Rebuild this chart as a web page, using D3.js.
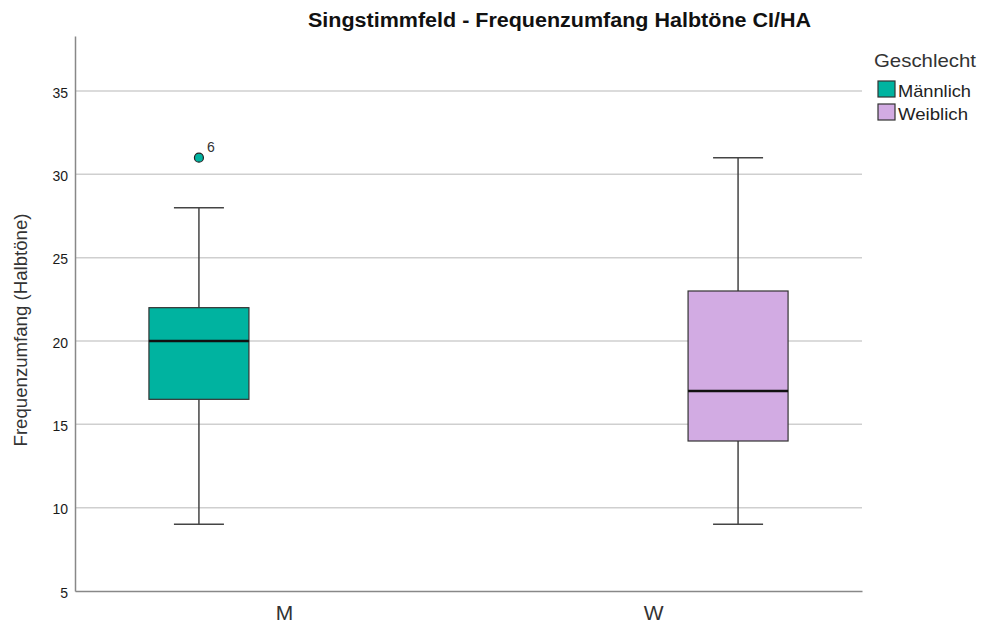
<!DOCTYPE html>
<html><head><meta charset="utf-8">
<script src="https://cdn.jsdelivr.net/npm/d3@7"></script>
<style>
body{margin:0;background:#fff;}
text{font-family:Arial,"Liberation Sans",sans-serif;}
</style></head>
<body><svg id="c" width="985" height="626"></svg>
<script>
const categories = ["M","W"];
const groups = ["Männlich","Weiblich"];
const groupColors = ["#00b3a0","#d2abe3"];
const boxCategory = ["M","W"];
const boxGroup = ["Männlich","Weiblich"];
const mins = [9,9];
const q1s = [16.5,14];
const medians = [20,17];
const q3s = [22,23];
const maxs = [28,31];
const outlierCategory = ["M"];
const outlierGroup = ["Männlich"];
const outlierValues = [31];
const outlierLabels = ["6"];
const yTicks = [5,10,15,20,25,30,35];

const svg = d3.select("#c");
const L=75, R=862, T=36, B=591;
const y = d3.scaleLinear().domain([5,38.3]).range([B,T]);
const x = d3.scalePoint().domain(categories).range([L,R]).padding(0.566);
const xo = d3.scalePoint().domain(groups).range([-85,85]);
const color = d3.scaleOrdinal().domain(groups).range(groupColors);
const bw = 100, cw = 50;

// gridlines
svg.append("g").selectAll("line").data(yTicks.filter(d=>d>5)).join("line")
  .attr("x1",L).attr("x2",R).attr("y1",d=>y(d)).attr("y2",d=>y(d))
  .attr("stroke","#cfcfcf").attr("stroke-width",1.5);

// axes
const ya = svg.append("g").attr("transform",`translate(${L},0)`)
  .call(d3.axisLeft(y).tickValues(yTicks).tickSize(0).tickPadding(7));
ya.select(".domain").attr("stroke","#888").attr("stroke-width",1.5);
ya.selectAll("text").attr("font-size",14).attr("fill","#1a1a1a").attr("dy","0.45em");
const xa = svg.append("g").attr("transform",`translate(0,${B})`)
  .call(d3.axisBottom(x).tickSize(0).tickPadding(0));
xa.select(".domain").attr("stroke","#888").attr("stroke-width",1.5);
xa.selectAll("text").attr("font-size",21).attr("fill","#333").attr("dy",null).attr("y",29);

const boxes = boxCategory.map((c,i)=>({c,g:boxGroup[i],min:mins[i],q1:q1s[i],med:medians[i],q3:q3s[i],max:maxs[i]}));
const bg = svg.append("g").selectAll("g").data(boxes).join("g")
  .attr("transform",d=>`translate(${x(d.c)+xo(d.g)},0)`);
const ws = "#444";
bg.append("line").attr("y1",d=>y(d.max)).attr("y2",d=>y(d.q3)).attr("stroke",ws).attr("stroke-width",1.5);
bg.append("line").attr("y1",d=>y(d.min)).attr("y2",d=>y(d.q1)).attr("stroke",ws).attr("stroke-width",1.5);
bg.append("line").attr("x1",-cw/2).attr("x2",cw/2).attr("y1",d=>y(d.max)).attr("y2",d=>y(d.max)).attr("stroke",ws).attr("stroke-width",1.5);
bg.append("line").attr("x1",-cw/2).attr("x2",cw/2).attr("y1",d=>y(d.min)).attr("y2",d=>y(d.min)).attr("stroke",ws).attr("stroke-width",1.5);
bg.append("rect").attr("x",-bw/2).attr("width",bw).attr("y",d=>y(d.q3)).attr("height",d=>y(d.q1)-y(d.q3))
  .attr("fill",d=>color(d.g)).attr("stroke","#333").attr("stroke-width",1.2);
bg.append("line").attr("x1",-bw/2).attr("x2",bw/2).attr("y1",d=>y(d.med)).attr("y2",d=>y(d.med)).attr("stroke","#111").attr("stroke-width",2.5);

// outliers
const outs = outlierValues.map((v,i)=>({c:outlierCategory[i],g:outlierGroup[i],v,l:outlierLabels[i]}));
svg.append("g").selectAll("circle").data(outs).join("circle")
  .attr("cx",d=>x(d.c)+xo(d.g)).attr("cy",d=>y(d.v)).attr("r",4.5)
  .attr("fill",d=>color(d.g)).attr("stroke","#222").attr("stroke-width",1.2);
svg.append("g").selectAll("text").data(outs).join("text")
  .attr("x",d=>x(d.c)+xo(d.g)+8).attr("y",d=>y(d.v)-6)
  .attr("font-size",14).attr("fill","#333").text(d=>d.l);

// title
svg.append("text").attr("x",559.5).attr("y",27).attr("text-anchor","middle")
  .attr("font-size",20).attr("font-weight","bold").attr("fill","#111")
  .attr("textLength",503).attr("lengthAdjust","spacingAndGlyphs")
  .text("Singstimmfeld - Frequenzumfang Halbtöne CI/HA");

// y title
svg.append("text").attr("transform","translate(27,330) rotate(-90)").attr("text-anchor","middle")
  .attr("font-size",18).attr("fill","#333").attr("textLength",233).attr("lengthAdjust","spacingAndGlyphs")
  .text("Frequenzumfang (Halbtöne)");

// legend
svg.append("text").attr("x",874).attr("y",67).attr("font-size",19).attr("fill","#333")
  .attr("textLength",102).attr("lengthAdjust","spacingAndGlyphs").text("Geschlecht");
const lg = svg.append("g").selectAll("g").data(groups).join("g")
  .attr("transform",(d,i)=>`translate(878,${81+i*23})`);
lg.append("rect").attr("width",17).attr("height",16).attr("fill",d=>color(d)).attr("stroke","#333").attr("stroke-width",1.2);
lg.append("text").attr("x",20).attr("y",15.5).attr("font-size",17).attr("fill","#222")
  .attr("textLength",(d,i)=>[73,70][i]).attr("lengthAdjust","spacingAndGlyphs").text(d=>d);
</script></body></html>
